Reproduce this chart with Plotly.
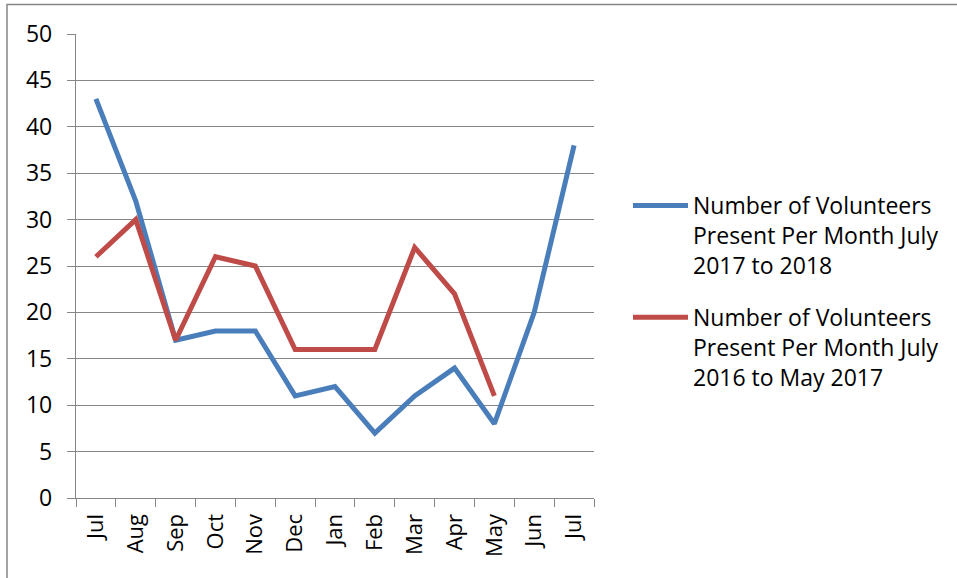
import plotly.graph_objects as go

# Month labels along the x axis (July through the following July)
months = ["Jul", "Aug", "Sep", "Oct", "Nov", "Dec", "Jan", "Feb", "Mar", "Apr", "May", "Jun", "Jul"]

# Volunteers present each month
volunteers_2017_2018 = [43, 32, 17, 18, 18, 11, 12, 7, 11, 14, 8, 20, 38]
volunteers_2016_2017 = [26, 30, 17, 26, 25, 16, 16, 16, 27, 22, 11]

name_2017 = "Number of Volunteers<br>Present Per Month July<br>2017 to 2018"
name_2016 = "Number of Volunteers<br>Present Per Month July<br>2016 to May 2017"

BLUE = "#4A7EBB"
RED = "#BE4B48"
GRID = "#868686"
FONT = "'Open Sans', Lato, sans-serif"

W, H = 957, 578
L, R, T, B = 76, 363, 34, 80
pw, ph = W - L - R, H - T - B

idx_2017 = list(range(len(volunteers_2017_2018)))
idx_2016 = list(range(len(volunteers_2016_2017)))

fig = go.Figure()
fig.add_trace(go.Scatter(
    x=idx_2017, y=volunteers_2017_2018, mode="lines", name=name_2017,
    legendgroup="y2017", line=dict(color=BLUE, width=5),
))
fig.add_trace(go.Scatter(
    x=idx_2016, y=volunteers_2016_2017, mode="lines", name=name_2016,
    legendgroup="y2016", line=dict(color=RED, width=5),
))

# Outer chart-area border (runs off the right and bottom edges)
def px_x(p):
    return (p - L) / pw

def px_y(p):
    return (H - B - p) / ph

fig.add_shape(
    type="rect", xref="paper", yref="paper",
    x0=px_x(7), x1=px_x(990), y0=px_y(610), y1=px_y(4.5),
    line=dict(color=GRID, width=1.5), fillcolor="rgba(0,0,0,0)", layer="below",
)

fig.update_layout(
    width=W, height=H,
    margin=dict(l=L, r=R, t=T, b=B),
    paper_bgcolor="white", plot_bgcolor="white",
    font=dict(family=FONT, color="black", size=23),
    showlegend=True,
    legend=dict(
        x=px_x(628), xanchor="left", y=px_y(184), yanchor="top",
        font=dict(size=23, family=FONT, color="black"),
        valign="top", itemwidth=55, tracegroupgap=19,
        bgcolor="rgba(0,0,0,0)",
    ),
    xaxis=dict(
        type="category",
        tickmode="array", tickvals=idx_2017, ticktext=months,
        tickson="boundaries", ticks="outside", ticklen=8, tickcolor=GRID, tickwidth=1.3,
        tickangle=-90, tickfont=dict(size=22),
        showline=True, linecolor=GRID, linewidth=1.3,
        showgrid=False, zeroline=False,
        range=[-0.5, 12.5],
        ticklabelstandoff=6,
    ),
    yaxis=dict(
        range=[0, 50], tickmode="array", tickvals=list(range(0, 51, 5)),
        ticks="outside", ticklen=8, tickcolor=GRID, tickwidth=1.3,
        showline=True, linecolor=GRID, linewidth=1.3,
        showgrid=True, gridcolor=GRID, gridwidth=1.3,
        zeroline=False, tickfont=dict(size=23),
        ticklabelstandoff=10,
    ),
)

fig.write_html("out.html")
